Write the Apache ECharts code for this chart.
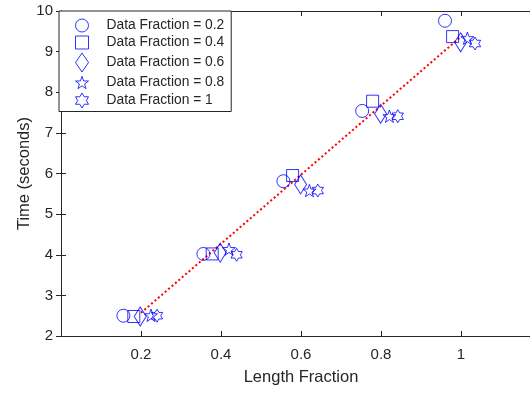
<!DOCTYPE html>
<html>
<head>
<meta charset="utf-8">
<script src="https://cdn.jsdelivr.net/npm/echarts@6/dist/echarts.min.js"></script>
<style>
html,body{margin:0;padding:0;background:#fff;}
#chart{width:530px;height:393px;}
</style>
</head>
<body>
<div id="chart"></div>
<script>
// ---- data ----
const seriesNames = ['Data Fraction = 0.2', 'Data Fraction = 0.4', 'Data Fraction = 0.6', 'Data Fraction = 0.8', 'Data Fraction = 1'];
const x02 = [0.156, 0.356, 0.556, 0.753, 0.960];
const y02 = [2.50, 4.02, 5.81, 7.54, 9.76];
const x04 = [0.182, 0.378, 0.579, 0.779, 0.979];
const y04 = [2.48, 4.02, 5.95, 7.78, 9.37];
const x06 = [0.198, 0.398, 0.599, 0.799, 0.999];
const y06 = [2.48, 4.05, 5.73, 7.47, 9.23];
const x08 = [0.225, 0.420, 0.621, 0.821, 1.016];
const y08 = [2.51, 4.14, 5.58, 7.41, 9.33];
const x10 = [0.240, 0.439, 0.642, 0.842, 1.035];
const y10 = [2.50, 4.00, 5.58, 7.41, 9.20];
const fitX = [0.2, 1.0];
const fitY = [2.57, 9.37];
const xTickLabels = ['0.2', '0.4', '0.6', '0.8', '1'];
const yTickLabels = ['2', '3', '4', '5', '6', '7', '8', '9', '10'];

// ---- marker shapes ----
function starPath(n, inner, startDeg) {
  let d = '';
  for (let i = 0; i < 2 * n; i++) {
    const r = (i % 2 === 0) ? 1 : inner;
    const a = (startDeg + i * 180 / n) * Math.PI / 180;
    const px = (r * Math.cos(a)).toFixed(4), py = (r * Math.sin(a)).toFixed(4);
    d += (i === 0 ? 'M' : 'L') + px + ',' + py;
  }
  return 'path://' + d + 'Z';
}
const symPenta = starPath(5, 0.40, -90);
const symHexa = starPath(6, 0.577, -90);
const symSquare = 'path://M0,0L10,0L10,10L0,10Z';

const FONT = '"Liberation Sans", Arial, Helvetica, sans-serif';
const TXT = '#262626';
const BLUE = '#0000ff';
const HOLLOW = {color: 'rgba(0,0,0,0)', borderColor: BLUE, borderWidth: 1};

function pairs(xs, ys) { return xs.map((v, i) => [v, ys[i]]); }

const markerSeries = [
  {name: seriesNames[0], xs: x02, ys: y02, symbol: 'circle', size: 13},
  {name: seriesNames[1], xs: x04, ys: y04, symbol: symSquare, size: 12},
  {name: seriesNames[2], xs: x06, ys: y06, symbol: 'diamond', size: [12, 19]},
  {name: seriesNames[3], xs: x08, ys: y08, symbol: symPenta, size: 13},
  {name: seriesNames[4], xs: x10, ys: y10, symbol: symHexa, size: 13}
].map(s => ({
  type: 'scatter',
  name: s.name,
  data: pairs(s.xs, s.ys),
  symbol: s.symbol,
  symbolSize: s.size,
  symbolKeepAspect: true,
  itemStyle: HOLLOW,
  emphasis: {disabled: true},
  z: 3
}));

const chart = echarts.init(document.getElementById('chart'), null, {renderer: 'canvas'});
const axisCommon = {
  axisLine: {show: true, lineStyle: {color: TXT, width: 1}},
  splitLine: {show: false}
};
chart.setOption({
  animation: false,
  backgroundColor: '#ffffff',
  textStyle: {fontFamily: FONT},
  grid: {left: 61, top: 11, width: 480, height: 325, containLabel: false, outerBoundsMode: 'none'},
  xAxis: [
    Object.assign({
      type: 'value', position: 'bottom', min: 0, max: 1.2, interval: 0.2,
      name: 'Length Fraction', nameLocation: 'middle', nameGap: 33,
      nameTextStyle: {fontSize: 16.5, color: TXT, fontFamily: FONT},
      axisTick: {show: true, inside: true, length: 5, lineStyle: {color: TXT}},
      axisLabel: {
        fontSize: 15, color: TXT, margin: 11, fontFamily: FONT,
        formatter: v => { const i = Math.round(v / 0.2) - 1; return (i >= 0 && i < xTickLabels.length) ? xTickLabels[i] : ''; }
      }
    }, axisCommon),
    Object.assign({
      type: 'value', position: 'top', min: 0, max: 1.2, interval: 0.2,
      axisTick: {show: true, inside: true, length: 5, lineStyle: {color: TXT}},
      axisLabel: {show: false}
    }, axisCommon)
  ],
  yAxis: [
    Object.assign({
      type: 'value', position: 'left', min: 2, max: 10, interval: 1,
      name: 'Time (seconds)', nameLocation: 'middle', nameGap: 28, nameMoveOverlap: false,
      nameTextStyle: {fontSize: 16.5, color: TXT, fontFamily: FONT},
      axisTick: {show: true, inside: true, length: 5, lineStyle: {color: TXT}},
      axisLabel: {
        fontSize: 15, color: TXT, margin: 8, fontFamily: FONT,
        formatter: v => { const i = Math.round(v) - 2; return yTickLabels[i] !== undefined ? yTickLabels[i] : ''; }
      }
    }, axisCommon),
    Object.assign({
      type: 'value', position: 'right', min: 2, max: 10, interval: 1,
      axisTick: {show: true, inside: true, length: 5, lineStyle: {color: TXT}},
      axisLabel: {show: false}
    }, axisCommon)
  ],
  legend: {
    orient: 'vertical',
    left: 59, top: 11,
    data: seriesNames,
    itemWidth: 13, itemHeight: 19, itemGap: 3,
    padding: [7.5, 7, 3, 16],
    symbolKeepAspect: true,
    itemStyle: {color: 'rgba(0,0,0,0)', borderColor: BLUE, borderWidth: 1},
    backgroundColor: '#ffffff',
    borderColor: TXT, borderWidth: 1, borderRadius: 0,
    textStyle: {fontSize: 13.8, color: TXT, fontFamily: FONT, padding: [0, 0, 0, 13]},
    selectedMode: false,
    z: 10
  },
  series: [
    {
      type: 'line', name: 'fit', data: pairs(fitX, fitY),
      symbol: 'none', silent: true, z: 2,
      lineStyle: {color: '#ff0000', width: 2, type: [2, 2.5], cap: 'butt'}
    }
  ].concat(markerSeries)
});
</script>
</body>
</html>
